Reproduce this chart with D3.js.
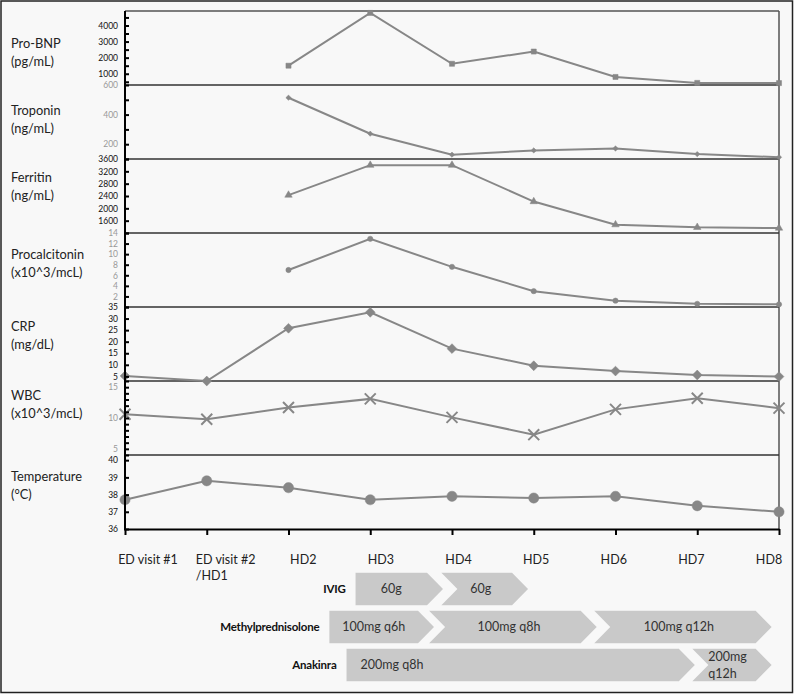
<!DOCTYPE html>
<html><head><meta charset="utf-8">
<script src="https://cdn.jsdelivr.net/npm/d3@7"></script>
<style>
body{margin:0;background:#fff;}
svg{display:block;font-family:Lato,"Open Sans",sans-serif;}
</style>
</head><body>
<svg id="chart" width="794" height="694"></svg>
<script>
// ---------- DATA ----------
const categories = ["ED visit #1","ED visit #2","HD2","HD3","HD4","HD5","HD6","HD7","HD8"];
const categoryLabels = [["ED visit #1"],["ED visit #2","/HD1"],["HD2"],["HD3"],["HD4"],["HD5"],["HD6"],["HD7"],["HD8"]];

const seriesNames = ["Pro-BNP","Troponin","Ferritin","Procalcitonin","CRP","WBC","Temperature"];
const seriesUnits = ["(pg/mL)","(ng/mL)","(ng/mL)","(x10^3/mcL)","(mg/dL)","(x10^3/mcL)","(°C)"];

const proBNP        = [null, null, 1500, 4780, 1620, 2380, 800, 430, 420];
const troponin      = [null, null, 514, 271, 129, 158, 171, 133, 112];
const ferritin      = [null, null, 2430, 3400, 3400, 2220, 1470, 1385, 1360];
const procalcitonin = [null, null, 7.0, 12.9, 7.6, 3.0, 1.2, 0.6, 0.5];
const crp           = [5.2, 3.0, 25.8, 32.7, 17.0, 9.6, 7.3, 5.6, 4.9];
const wbc           = [10.6, 9.8, 11.7, 13.1, 10.1, 7.3, 11.4, 13.2, 11.6];
const temperature   = [37.7, 38.8, 38.4, 37.7, 37.9, 37.8, 37.9, 37.35, 37.0];

const yDomains = [[300,4900],[100,600],[1200,3600],[0,14],[3,35],[4,16],[36,40.3]];
const yTickLabels = [
  [1000,2000,3000,4000],
  [200,400,600],
  [1600,2000,2400,2800,3200,3600],
  [2,4,6,8,10,12,14],
  [5,10,15,20,25,30,35],
  [5,10,15],
  [36,37,38,39,40]
];
const yMinorSteps = [500,100,400,2,5,1,1];

const treatments = ["IVIG","Methylprednisolone","Anakinra"];
// start / end in day positions along the timeline (0 = ED visit #1)
const ivigCourses     = [{start:2.82,end:3.89,dose:["60g"]},{start:3.87,end:4.93,dose:["60g"]}];
const methylCourses   = [{start:2.50,end:3.78,dose:["100mg q6h"]},{start:3.72,end:5.77,dose:["100mg q8h"]},{start:5.74,end:7.91,dose:["100mg q12h"]}];
const anakinraCourses = [{start:2.71,end:6.97,dose:["200mg q8h"]},{start:6.94,end:7.91,dose:["200mg","q12h"]}];

// ---------- LAYOUT ----------
const svg = d3.select("#chart");
const W = 794, H = 694;
const plotLeft = 125, plotRight = 779, plotTop = 11, panelH = 74;
const nPanels = seriesNames.length;
const plotBottom = plotTop + panelH * nPanels;
const lineColor = "#878787";
const labelOffsets = [33, 26, 19, 22, 20, 15, 22]; // first label line, from panel top

svg.append("rect").attr("x",1).attr("y",1).attr("width",W-2.5).attr("height",H-2.5)
  .attr("fill","#f8f8f8").attr("stroke","#222").attr("stroke-width",1.5);

const x = d3.scalePoint().domain(categories).range([plotLeft, plotRight]).padding(0);
const xLabel = d3.scalePoint().domain(categories).range([148, 769]).padding(0);
const xDay = d3.scaleLinear().domain([0, categories.length-1]).range([plotLeft, plotRight]);

const seriesData = [proBNP, troponin, ferritin, procalcitonin, crp, wbc, temperature];
const tickColors = ["#111","#999","#111","#999","#111","#999","#111"];

const markers = [
  {type:d3.symbolSquare, size:26, rot:0, fill:true},
  {type:d3.symbolSquare, size:14, rot:45, fill:true},
  {type:d3.symbolTriangle, size:24, rot:0, fill:true},
  {type:d3.symbolCircle, size:22, rot:0, fill:true},
  {type:d3.symbolSquare, size:48, rot:45, fill:true},
  {type:d3.symbolX, size:80, rot:0, fill:false},
  {type:d3.symbolCircle, size:82, rot:0, fill:true}
];

svg.append("line").attr("x1",plotLeft).attr("x2",plotRight).attr("y1",plotTop).attr("y2",plotTop)
  .attr("stroke","#555").attr("stroke-width",1.5);
svg.append("line").attr("x1",plotRight).attr("x2",plotRight).attr("y1",plotTop).attr("y2",plotBottom)
  .attr("stroke","#555").attr("stroke-width",1.5);

seriesData.forEach((vals, i) => {
  const top = plotTop + i*panelH, bottom = top + panelH;
  const y = d3.scaleLinear().domain(yDomains[i]).range([bottom, top]);
  const g = svg.append("g");

  if (i < nPanels-1) {
    g.append("line").attr("x1",plotLeft).attr("x2",plotRight).attr("y1",bottom).attr("y2",bottom)
      .attr("stroke","#333").attr("stroke-width",1.5);
  }

  const line = d3.line().defined(d => d != null)
    .x((d,j) => x(categories[j])).y(d => y(d));
  g.append("path").datum(vals).attr("d", line)
    .attr("fill","none").attr("stroke",lineColor).attr("stroke-width",2);

  const m = markers[i];
  const sym = d3.symbol().type(m.type).size(m.size);
  g.selectAll("path.mk").data(vals.map((v,j)=>({v,j})).filter(d=>d.v!=null)).join("path")
    .attr("class","mk")
    .attr("d", sym)
    .attr("transform", d => `translate(${x(categories[d.j])},${y(d.v)}) rotate(${m.rot})`)
    .attr("fill", m.fill ? lineColor : "none")
    .attr("stroke", lineColor)
    .attr("stroke-width", m.fill ? 0.5 : 2);

  const [d0,d1] = yDomains[i];
  const step = yMinorSteps[i];
  const minor = d3.range(Math.ceil(d0/step)*step, d1+1e-9, step);
  const minorAxis = d3.axisLeft(y).tickValues(minor).tickFormat("").tickSizeInner(-4).tickSizeOuter(0);
  const ga = g.append("g").attr("transform",`translate(${plotLeft},0)`).call(minorAxis);
  ga.select(".domain").remove();
  ga.selectAll(".tick line").attr("stroke","#000").attr("stroke-width",2).attr("x1",-1);

  const labAxis = d3.axisLeft(y).tickValues(yTickLabels[i]).tickSizeInner(0).tickSizeOuter(0).tickPadding(7)
    .tickFormat(d3.format("d"));
  const gl = g.append("g").attr("transform",`translate(${plotLeft},0)`).call(labAxis);
  gl.select(".domain").remove();
  gl.selectAll(".tick line").remove();
  gl.selectAll(".tick text").attr("font-family","Lato, sans-serif").attr("font-size",8.5)
    .attr("fill",tickColors[i]);

  svg.append("text").attr("x",11).attr("y",top+labelOffsets[i]).attr("dy","0.35em")
    .attr("font-size",12.8).attr("fill","#222").text(seriesNames[i]);
  svg.append("text").attr("x",11).attr("y",top+labelOffsets[i]+18).attr("dy","0.35em")
    .attr("font-size",12.8).attr("fill","#222").text(seriesUnits[i]);
});

svg.append("line").attr("x1",plotLeft).attr("x2",plotLeft).attr("y1",plotTop).attr("y2",plotBottom+1)
  .attr("stroke","#000").attr("stroke-width",2);

const xAxis = d3.axisBottom(x).tickFormat("").tickSizeInner(6).tickSizeOuter(0);
const gx = svg.append("g").attr("transform",`translate(0,${plotBottom})`).call(xAxis);
gx.select(".domain").attr("stroke","#000").attr("stroke-width",2);
gx.selectAll(".tick line").attr("stroke","#000").attr("stroke-width",2);

categories.forEach((c, j) => {
  const lines = categoryLabels[j];
  const t = svg.append("text").attr("x", xLabel(c)).attr("y", 560).attr("dy","0.35em")
    .attr("text-anchor","middle").attr("font-size",12.5).attr("fill","#222").text(lines[0]);
  if (lines.length > 1) {
    const w = t.node().getComputedTextLength();
    svg.append("text").attr("x", xLabel(c) - w/2).attr("y", 576).attr("dy","0.35em")
      .attr("font-size",12.5).attr("fill","#222").text(lines[1]);
  }
});

// ---------- TREATMENTS ----------
const rowScale = d3.scaleBand().domain(treatments).range([570, 684]).paddingInner(0);
const courses = [ivigCourses, methylCourses, anakinraCourses];
const tip = 16;
courses.forEach((segs, r) => {
  const cy = rowScale(treatments[r]) + rowScale.bandwidth()/2;
  const h = rowScale.bandwidth()*0.86;
  const t0 = cy - h/2, t1 = cy + h/2;
  segs.forEach((s, k) => {
    const L = xDay(s.start), E = xDay(s.end);
    const pts = [[L,t0],[E-tip,t0],[E,cy],[E-tip,t1],[L,t1]];
    if (k > 0) pts.push([L+tip, cy]);
    svg.append("path").attr("d", d3.line()(pts) + "Z").attr("fill","#c9c9c9");
    const long = (E - L) > 220;
    const chevron = k > 0;
    let tx, anchor;
    if (long) { tx = L + 14; anchor = "start"; }
    else if (s.dose.length > 1) { tx = L + tip; anchor = "start"; }
    else { tx = (L + E - tip)/2 + (chevron ? 4 : 0); anchor = "middle"; }
    s.dose.forEach((line, li) => {
      svg.append("text").attr("x", tx)
        .attr("y", cy + (li - (s.dose.length-1)/2)*16.5).attr("dy","0.35em")
        .attr("text-anchor", anchor).attr("font-size",12.5).attr("fill","#333").text(line);
    });
  });
  svg.append("text").attr("x", xDay(segs[0].start) - 10).attr("y", cy).attr("dy","0.35em")
    .attr("text-anchor","end").attr("font-size",11.5).attr("letter-spacing",-0.2)
    .attr("font-weight","bold").attr("fill","#111")
    .text(treatments[r]);
});
</script>
</body></html>
